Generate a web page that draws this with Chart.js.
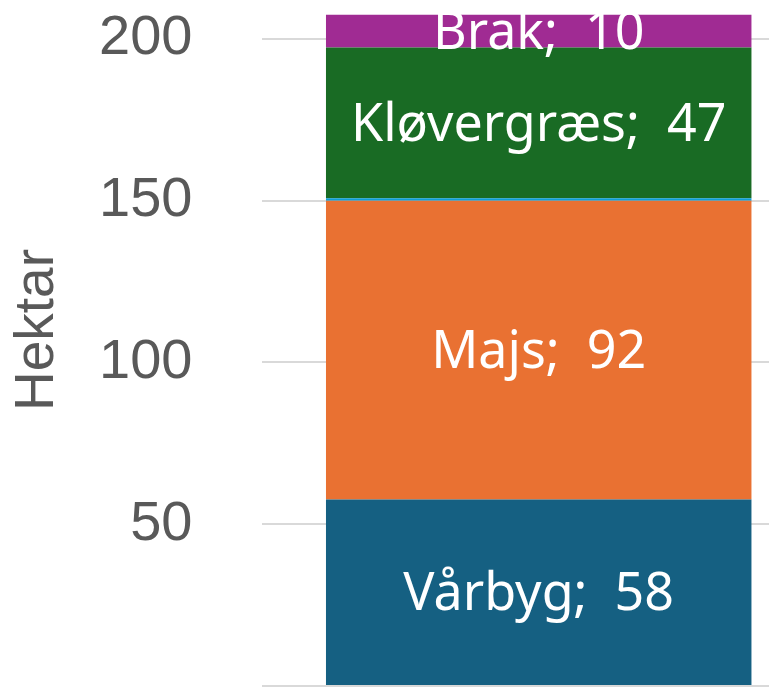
<!doctype html>
<html lang="da">
<head>
<meta charset="utf-8">
<title>Hektar</title>
<script src="https://cdn.jsdelivr.net/npm/chart.js@4.4.1/dist/chart.umd.min.js"></script>
<style>
  html, body { margin: 0; padding: 0; background: #fff; overflow: hidden; width: 769px; height: 688px; }
  /* the picture is a crop: the plot runs past the top and right edges */
  #wrap { position: absolute; left: 0; top: -76px; width: 815px; height: 812px; }
</style>
</head>
<body>
<div id="wrap"><canvas id="chart"></canvas></div>
<script>
const CATEGORIES = [''];
const CROPS = ['Vårbyg', 'Majs', 'Øvrige', 'Kløvergræs', 'Brak'];
const HECTARES = [57.6, 92.3, 0.8, 46.6, 10.1];
const COLORS = ['#156082', '#E97132', '#0F9ED5', '#196B24', '#A02B93'];
const SHOW_LABEL = [true, true, false, true, true];
const Y_TICKS = [0, 50, 100, 150, 200];

// white "Navn;  tal" text in the middle of each segment
const segmentLabels = {
  id: 'segmentLabels',
  afterDatasetsDraw(chart) {
    const ctx = chart.ctx;
    ctx.save();
    ctx.font = '52px "Noto Sans"';
    ctx.fillStyle = '#ffffff';
    ctx.textAlign = 'center';
    ctx.textBaseline = 'middle';
    chart.data.datasets.forEach((ds, i) => {
      if (!SHOW_LABEL[i]) return;
      chart.getDatasetMeta(i).data.forEach((bar, j) => {
        const { x, y, base } = bar.getProps(['x', 'y', 'base'], true);
        ctx.fillText(ds.label + ';  ' + Math.round(ds.data[j]), x, (y + base) / 2 + 3);
      });
    });
    ctx.restore();
  },
};

new Chart(document.getElementById('chart'), {
  type: 'bar',
  data: {
    labels: CATEGORIES,
    datasets: CROPS.map((name, i) => ({
      label: name,
      data: [HECTARES[i]],
      backgroundColor: COLORS[i],
      borderWidth: 0,
      categoryPercentage: 1.0,
      barPercentage: 0.77,
    })),
  },
  plugins: [segmentLabels],
  options: {
    responsive: true,
    maintainAspectRatio: false,
    animation: false,
    layout: { padding: { top: 50, bottom: 50, left: 0, right: 0 } },
    plugins: { legend: { display: false }, tooltip: { enabled: false } },
    scales: {
      x: { stacked: true, display: false },
      y: {
        stacked: true,
        min: 0,
        max: 220,
        afterBuildTicks: (s) => { s.ticks = Y_TICKS.map((v) => ({ value: v })); },
        border: { display: false },
        grid: { color: '#d9d9d9', lineWidth: 2, tickLength: 62, tickColor: 'transparent' },
        ticks: {
          padding: 8,
          color: '#595959',
          font: { family: '"Liberation Sans", Arial, sans-serif', size: 56 },
          callback: (v) => (v === 0 ? '' : v),
        },
        title: {
          display: true,
          text: 'Hektar',
          color: '#595959',
          font: { family: '"Liberation Sans", Arial, sans-serif', size: 55 },
          padding: { top: 5, bottom: 20 },
        },
      },
    },
  },
});
</script>
</body>
</html>
